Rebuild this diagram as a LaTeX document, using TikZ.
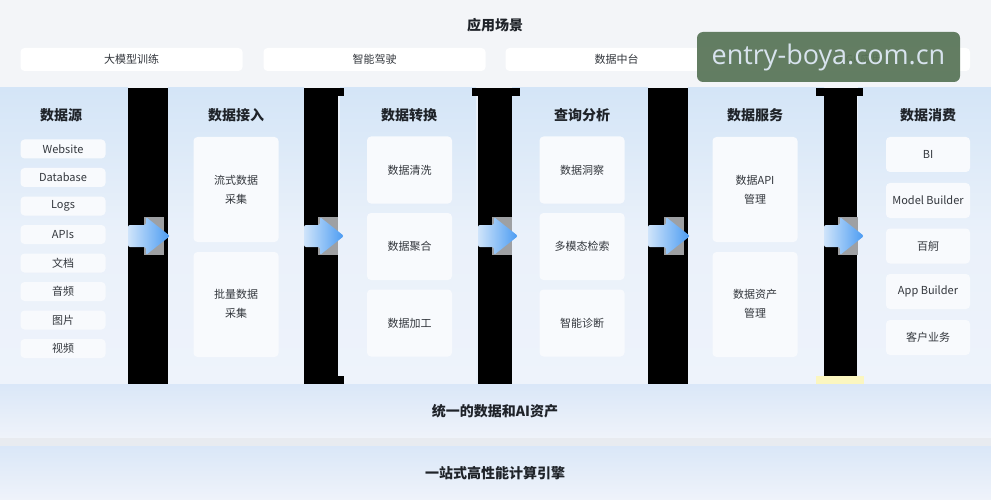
\documentclass[tikz,border=0pt]{standalone}
\usepackage{fontspec}
\setmainfont{Noto Sans CJK SC}
\newfontfamily\wmfont{Open Sans}
\definecolor{topbg}{HTML}{F3F5F8}
\definecolor{colbgA}{HTML}{D4E5F7}
\definecolor{colbgB}{HTML}{EAF1FA}
\definecolor{colbgC}{HTML}{EEF3FB}
\definecolor{itembg}{HTML}{F8FAFD}
\definecolor{titlec}{HTML}{1F2329}
\definecolor{textc}{HTML}{33373D}
\definecolor{wmgreen}{HTML}{587457}
\definecolor{wmtext}{HTML}{D8E3EE}
\definecolor{arrL}{HTML}{CFE4FA}
\definecolor{arrR}{HTML}{4A9BF2}
\definecolor{graysq}{HTML}{9EA0A3}
\definecolor{bandA}{HTML}{DAE7F8}
\definecolor{bandB}{HTML}{EFF3FA}
\definecolor{sepc}{HTML}{E8EBF0}
\definecolor{yellowp}{HTML}{FBF6C0}
\newcommand{\blockarrow}[2]{%
  \fill[graysq] (#2-26,217) rectangle (#2-6,255);
  \shade[left color=arrL,right color=arrR,rounded corners=2pt]
    (#1,225) -- (#2-24,225) -- (#2-24,217) -- (#2,236) -- (#2-24,255) -- (#2-24,247) -- (#1,247) -- cycle;}
\begin{document}
\begin{tikzpicture}[x=1pt,y=-1pt,
  scbox/.style={fill=white, rounded corners=4pt, minimum width=222pt, minimum height=23pt,
    inner sep=0pt, font=\fontsize{11}{13}\selectfont, text=textc},
  srcbox/.style={fill=itembg, rounded corners=4pt, minimum width=85pt, minimum height=19pt,
    inner sep=0pt, font=\fontsize{11}{13}\selectfont, text=textc},
  tallbox/.style={fill=itembg, rounded corners=4pt, minimum width=85pt, minimum height=105pt,
    inner sep=0pt, font=\fontsize{11}{19}\selectfont, text=textc, align=center},
  midbox/.style={fill=itembg, rounded corners=4pt, minimum width=85pt, minimum height=67pt,
    inner sep=0pt, font=\fontsize{11}{13}\selectfont, text=textc},
  conbox/.style={fill=itembg, rounded corners=4pt, minimum width=84pt, minimum height=35pt,
    inner sep=0pt, font=\fontsize{11}{13}\selectfont, text=textc},
  twoline/.style={font=\fontsize{11}{19}\selectfont, text=textc, align=center},
  ttl/.style={font=\fontsize{14}{16}\selectfont\bfseries, text=titlec},
  bandtxt/.style={font=\fontsize{14}{16}\selectfont\bfseries, text=titlec},
  colpanel/.style={top color=colbgA, bottom color=colbgC, middle color=colbgB},
  blackbar/.style={fill=black}
]
\useasboundingbox (0,0) rectangle (991,500);
% top area
\fill[topbg] (0,0) rectangle (991,88);
\node[ttl] (scene) at (495,25) {应用场景};
\node[scbox] (s1) at (131.5,59.5) {大模型训练};
\node[scbox] (s2) at (374.5,59.5) {智能驾驶};
\node[scbox] (s3) at (616.5,59.5) {数据中台};
\node[scbox] (s4) at (859,59.5) {AIGC应用};
% columns area
\fill[colbgB] (0,88) rectangle (991,384);
\shade[colpanel] (0,88) rectangle (128,384);
\shade[colpanel] (168,88) rectangle (304,384);
\shade[colpanel] (340,88) rectangle (476,384);
\shade[colpanel] (512,88) rectangle (648,384);
\shade[colpanel] (688,88) rectangle (824,384);
\shade[colpanel] (858,88) rectangle (991,384);
% black bars
\fill[blackbar] (128,88) rectangle (168,384);
\fill[blackbar] (304,88) rectangle (338,384);
\fill[blackbar] (304,88) rectangle (344,96);
\fill[blackbar] (304,376) rectangle (344,384);
\fill[blackbar] (478,88) rectangle (512,384);
\fill[blackbar] (472,88) rectangle (520,96);
\fill[blackbar] (648,88) rectangle (688,384);
\fill[blackbar] (824,88) rectangle (857,376);
\fill[blackbar] (816,88) rectangle (863,96);
\fill[yellowp] (816,376) rectangle (864,384);
% titles
\node[ttl] (t1) at (61,115) {数据源};
\node[ttl] (t2) at (236,115) {数据接入};
\node[ttl] (t3) at (409,115) {数据转换};
\node[ttl] (t4) at (582,115) {查询分析};
\node[ttl] (t5) at (755,115) {数据服务};
\node[ttl] (t6) at (928,115) {数据消费};
% column 1
\node[srcbox] (c1a) at (63,149) {Website};
\node[srcbox] (c1b) at (63,177.5) {Database};
\node[srcbox] (c1c) at (63,206) {Logs};
\node[srcbox] (c1d) at (63,234.5) {APIs};
\node[srcbox] (c1e) at (63,263) {文档};
\node[srcbox] (c1f) at (63,291.5) {音频};
\node[srcbox] (c1g) at (63,320) {图片};
\node[srcbox] (c1h) at (63,348.5) {视频};
% column 2
\node[tallbox] (c2a) at (236,189.5) {};
\node[twoline] (c2at) at (236,189.5) {流式数据\\采集};
\node[tallbox] (c2b) at (236,304.5) {};
\node[twoline] (c2bt) at (236,304) {批量数据\\采集};
% column 3
\node[midbox] (c3a) at (409.5,170) {数据清洗};
\node[midbox] (c3b) at (409.5,246.5) {数据聚合};
\node[midbox] (c3c) at (409.5,323) {数据加工};
% column 4
\node[midbox] (c4a) at (582,170) {数据洞察};
\node[midbox] (c4b) at (582,246.5) {多模态检索};
\node[midbox] (c4c) at (582,323) {智能诊断};
% column 5
\node[tallbox] (c5a) at (755,189.5) {};
\node[twoline] (c5at) at (755,189.5) {数据API\\管理};
\node[tallbox] (c5b) at (755,304.5) {};
\node[twoline] (c5bt) at (755,304) {数据资产\\管理};
% column 6
\node[conbox] (c6a) at (928,154.5) {BI};
\node[conbox] (c6b) at (928,200.5) {Model Builder};
\node[conbox] (c6c) at (928,246) {百舸};
\node[conbox] (c6d) at (928,291.5) {App Builder};
\node[conbox] (c6e) at (928,337.5) {客户业务};
% arrows
\blockarrow{128}{170}
\blockarrow{304}{344}
\blockarrow{478}{518}
\blockarrow{648}{690}
\blockarrow{824}{864}
% bottom bands
\shade[top color=bandA, bottom color=bandB] (0,384) rectangle (991,438);
\fill[sepc] (0,438) rectangle (991,446);
\shade[top color=bandA, bottom color=bandB] (0,446) rectangle (991,500);
\node[bandtxt] (b1) at (495,411) {统一的数据和AI资产};
\node[bandtxt] (b2) at (495,473) {一站式高性能计算引擎};
% watermark (semi-transparent, as in the reference)
\fill[wmgreen, fill opacity=0.93, rounded corners=6pt] (697,32) rectangle (960,82);
\node[text=wmtext, inner sep=0pt, font=\wmfont\fontsize{27}{30}\selectfont] (wm) at (828.5,57) {entry-boya.com.cn};
\end{tikzpicture}
\end{document}
